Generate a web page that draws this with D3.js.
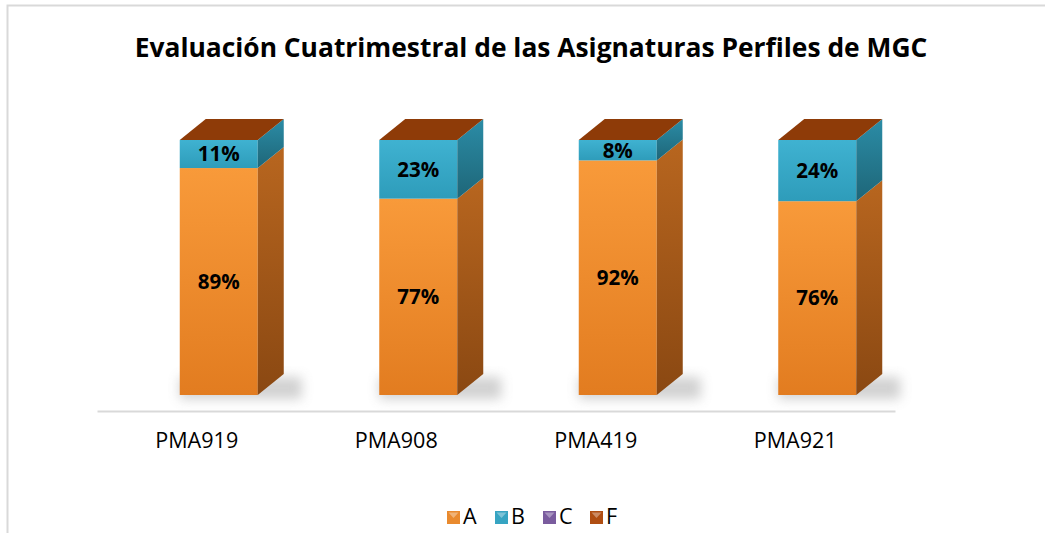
<!DOCTYPE html>
<html><head><meta charset="utf-8">
<script src="https://cdn.jsdelivr.net/npm/d3@7"></script>
<style>body{margin:0;background:#fff}svg{display:block}</style>
</head><body>
<svg id="c" width="1045" height="533"></svg>
<script>
const categories = ["PMA919","PMA908","PMA419","PMA921"];
const seriesNames = ["A","B","C","F"];
const valuesA = [89,77,92,76];
const valuesB = [11,23,8,24];
const valuesC = [0,0,0,0];
const valuesF = [0,0,0,0];
const title = "Evaluación Cuatrimestral de las Asignaturas Perfiles de MGC";

const series = [valuesA, valuesB, valuesC, valuesF];
const colors = {
  A:{front:["#F89A3A","#E27C20"], side:["#B8661F","#8A4812"], top:"#F7A54F"},
  B:{front:["#3FB2D1","#2E9CBA"], side:["#2B8CA6","#1E6678"], top:"#5BC1DC"},
  C:{front:["#8466A8","#6C5090"], side:["#5E4780","#45335E"], top:"#9A80BC"},
  F:{front:["#B55A1A","#963F0A"], side:["#8C400C","#6E3006"], top:"#8E3B08"}
};
const legendCol = {A:"#E98A2E",B:"#36A4C2",C:"#7A5C9E",F:"#B04E12"};

const svg = d3.select("#c");
const font = "'Open Sans', 'DejaVu Sans', sans-serif";
const defs = svg.append("defs");
seriesNames.forEach(s=>{
  const g1 = defs.append("linearGradient").attr("id","fr"+s).attr("x1",0).attr("y1",0).attr("x2",0).attr("y2",1);
  g1.append("stop").attr("offset","0%").attr("stop-color",colors[s].front[0]);
  g1.append("stop").attr("offset","100%").attr("stop-color",colors[s].front[1]);
  const g2 = defs.append("linearGradient").attr("id","sd"+s).attr("x1",0).attr("y1",0).attr("x2",0).attr("y2",1);
  g2.append("stop").attr("offset","0%").attr("stop-color",colors[s].side[0]);
  g2.append("stop").attr("offset","100%").attr("stop-color",colors[s].side[1]);
});
defs.append("filter").attr("id","blur").attr("x","-50%").attr("y","-50%").attr("width","200%").attr("height","200%")
  .append("feGaussianBlur").attr("stdDeviation",6);

function fit(sel, target, base){
  sel.attr("font-size", base);
  const w = sel.node().getComputedTextLength();
  sel.attr("font-size", base*target/w);
  return base*target/w;
}

// chart border
svg.append("rect").attr("x",7.5).attr("y",5.5).attr("width",1100).attr("height",600)
  .attr("fill","none").attr("stroke","#d9d9d9").attr("stroke-width",2);

// title
const t = svg.append("text").attr("x",531).attr("y",57).attr("text-anchor","middle")
  .attr("font-family",font).attr("font-weight","bold").attr("fill","#000").text(title);
fit(t, 793, 26);

const x = d3.scaleBand().domain(categories).range([97,895]);
const y = d3.scaleLinear().domain([0,100]).range([395,140]);
const barW = 78, dx = 26, dy = -21, barOff = 22;

// axis
const ax = svg.append("g").attr("transform","translate(0,411)")
  .call(d3.axisBottom(x).tickSize(0).tickPadding(22));
ax.select(".domain").attr("stroke","#d9d9d9").attr("stroke-width",2);
const catTexts = ax.selectAll("text").attr("font-family",font).attr("fill","#000");
const probe = ax.select("text");
const catSize = fit(probe, 83, 17);
catTexts.attr("font-size", catSize);

// stack
const stacked = categories.map((c,i)=>{
  let acc = 0;
  return seriesNames.map((s,k)=>{ const v = series[k][i]; const r={cat:c,s,v,y0:acc,y1:acc+v}; acc+=v; return r;});
});

// shadows
svg.append("g").selectAll("rect").data(categories).join("rect")
  .attr("x",c=>x(c)+x.bandwidth()/2+barOff-barW/2)
  .attr("y",y(0)-18).attr("width",barW+dx+18).attr("height",22)
  .attr("fill","#999").attr("opacity",0.45).attr("filter","url(#blur)");

// label size
const tmp = svg.append("text").attr("font-family",font).attr("font-weight","bold").text("89%");
const lblSize = fit(tmp, 42, 18);
tmp.remove();

const bars = svg.append("g");
stacked.forEach(stack=>{
  const c = stack[0].cat;
  const x0 = x(c)+x.bandwidth()/2+barOff-barW/2, x1 = x0+barW;
  const g = bars.append("g");
  stack.forEach(d=>{
    const yt = y(d.y1), yb = y(d.y0);
    if (d.v>0){
      g.append("rect").attr("x",x0).attr("y",yt).attr("width",barW).attr("height",yb-yt).attr("fill",`url(#fr${d.s})`);
      g.append("path").attr("d",`M${x1},${yb}L${x1+dx},${yb+dy}L${x1+dx},${yt+dy}L${x1},${yt}Z`).attr("fill",`url(#sd${d.s})`);
    }
  });
  const last = stack[stack.length-1];
  const yt = y(last.y1);
  g.append("path").attr("d",`M${x0},${yt}L${x0+dx},${yt+dy}L${x1+dx},${yt+dy}L${x1},${yt}Z`).attr("fill",colors[last.s].top);
  stack.forEach(d=>{
    if (d.v>0){
      g.append("text").attr("x",(x0+x1)/2).attr("y",(y(d.y0)+y(d.y1))/2).attr("dy","0.36em")
        .attr("text-anchor","middle").attr("font-family",font).attr("font-weight","bold").attr("font-size",lblSize)
        .attr("fill","#000").text(d.v+"%");
    }
  });
});

// legend
const lg = svg.append("g");
const lx = [447,495,543,590];
seriesNames.forEach((s,i)=>{
  const gx = lx[i], gy = 511;
  lg.append("rect").attr("x",gx).attr("y",gy).attr("width",13).attr("height",13).attr("fill",legendCol[s]);
  lg.append("path").attr("d",`M${gx+1.5},${gy+1.5}L${gx+11.5},${gy+1.5}L${gx+6.5},${gy+7}Z`)
    .attr("fill","#fff").attr("opacity",0.35);
  lg.append("text").attr("x",gx+16).attr("y",gy+13).attr("font-family",font).attr("font-size",catSize)
    .attr("fill","#000").text(s);
});
</script>
</body></html>
